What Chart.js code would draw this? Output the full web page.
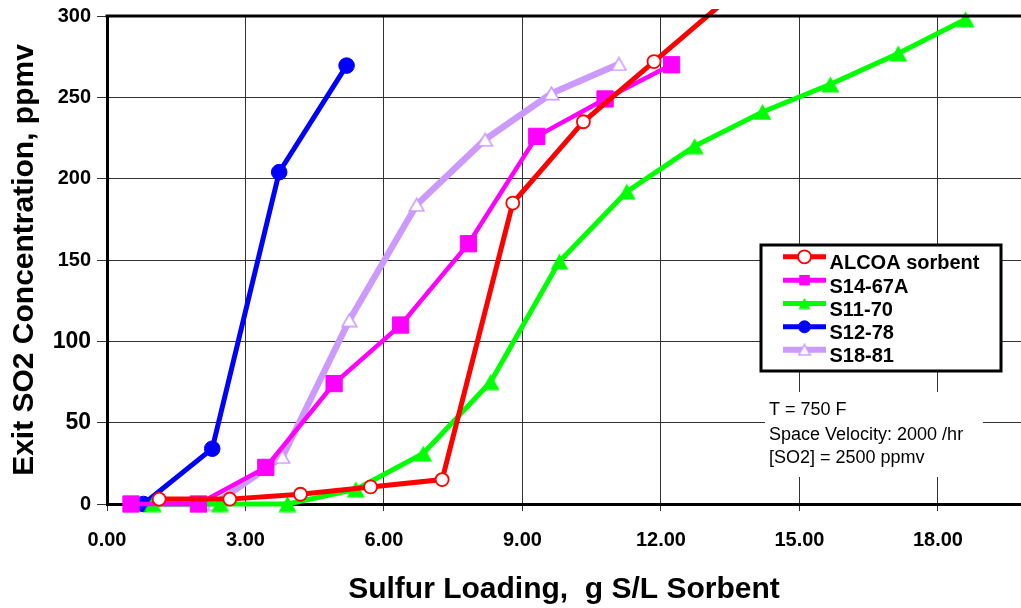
<!DOCTYPE html>
<html>
<head>
<meta charset="utf-8">
<script src="https://cdn.jsdelivr.net/npm/chart.js@4/dist/chart.umd.min.js"></script>
<style>
html,body{margin:0;padding:0;background:#fff;overflow:hidden;}
#wrap{width:1021px;height:608px;position:relative;}
</style>
</head>
<body>
<div id="wrap"><canvas id="c" width="1021" height="608"></canvas></div>
<script>
// ---- data ----
const seriesNames = ["ALCOA sorbent", "S14-67A", "S11-70", "S12-78", "S18-81"];

const alcoaX = [1.13, 2.66, 4.19, 5.71, 7.26, 8.79, 10.32, 11.85, 13.38];
const alcoaY = [3, 3, 6, 10.5, 15, 185, 235, 272, 309];

const s1467X = [0.52, 1.98, 3.44, 4.92, 6.36, 7.83, 9.31, 10.79, 12.23];
const s1467Y = [0, 0, 22.5, 74, 110, 160, 226, 249, 270];

const s1170X = [0.99, 2.45, 3.91, 5.39, 6.85, 8.31, 9.80, 11.26, 12.73, 14.20, 15.67, 17.14, 18.60];
const s1170Y = [0, 0, 0, 9, 31, 75, 149, 192, 220, 241, 258, 277, 298];

const s1278X = [0.79, 2.28, 3.73, 5.19];
const s1278Y = [0, 34, 204, 269.5];

const s1881X = [0.88, 2.34, 3.80, 5.25, 6.71, 8.19, 9.63, 11.09];
const s1881Y = [0, 0, 29, 113, 184, 224, 252.5, 270.5];

const xTicks = [0, 3, 6, 9, 12, 15, 18];
const yTicks = [0, 50, 100, 150, 200, 250, 300];

const noteLines = ["T = 750 F", "Space Velocity: 2000 /hr", "[SO2] = 2500 ppmv"];
const xTitle = "Sulfur Loading,  g S/L Sorbent";
const yTitle = "Exit SO2 Concentration, ppmv";

// ---- helpers ----
const FONT = "'Liberation Sans', Arial, Helvetica, sans-serif";
function pts(xs, ys){ return xs.map((x,i)=>({x:x, y:ys[i]})); }

function triCanvas(w, h, fill, stroke, lw){
  const c = document.createElement('canvas');
  c.width = w; c.height = h;
  const g = c.getContext('2d');
  const p = lw/2 + 0.5;
  g.beginPath();
  g.moveTo(w/2, p);
  g.lineTo(w - p, h - p);
  g.lineTo(p, h - p);
  g.closePath();
  g.fillStyle = fill; g.fill();
  if (lw > 0){ g.lineWidth = lw; g.strokeStyle = stroke; g.stroke(); }
  return c;
}
const greenTri = triCanvas(19, 17, '#00FF00', '#00FF00', 0);
const lavTri = triCanvas(17, 15, '#FFFFFF', '#CC99FF', 1.6);
const greenTriSmall = triCanvas(13, 12, '#00FF00', '#00FF00', 0);
const lavTriSmall = triCanvas(14, 13, '#FFFFFF', '#CC99FF', 1.4);

const datasets = [
  {label: seriesNames[0], data: pts(alcoaX, alcoaY), borderColor:'#FF0000', borderWidth:5,
   pointStyle:'circle', pointRadius:6.5, pointBackgroundColor:'#FFFFFF', pointBorderColor:'#FF0000', pointBorderWidth:1.8,
   clip:{left:12, top:7, right:12, bottom:12}},
  {label: seriesNames[1], data: pts(s1467X, s1467Y), borderColor:'#FF00FF', borderWidth:4.5,
   pointStyle:'rect', pointRadius:11.5, pointBackgroundColor:'#FF00FF', pointBorderColor:'#FF00FF', pointBorderWidth:1, clip:false},
  {label: seriesNames[2], data: pts(s1170X, s1170Y), borderColor:'#00FF00', borderWidth:5,
   pointStyle:greenTri, pointRadius:9, clip:false},
  {label: seriesNames[3], data: pts(s1278X, s1278Y), borderColor:'#0000FF', borderWidth:5,
   pointStyle:'circle', pointRadius:7.8, pointBackgroundColor:'#0000FF', pointBorderColor:'#0000FF', pointBorderWidth:1, clip:false},
  {label: seriesNames[4], data: pts(s1881X, s1881Y), borderColor:'#CC99FF', borderWidth:6.5,
   pointStyle:lavTri, pointRadius:8, clip:false}
];

const legendMarkers = [
  {type:'circle', r:6.5, fill:'#FFFFFF', stroke:'#FF0000', lw:1.8, color:'#FF0000', lineW:5},
  {type:'rect', s:10.5, fill:'#FF00FF', color:'#FF00FF', lineW:5},
  {type:'img', img:greenTriSmall, color:'#00FF00', lineW:5},
  {type:'circle', r:6, fill:'#0000FF', stroke:'#0000FF', lw:1, color:'#0000FF', lineW:5},
  {type:'img', img:lavTriSmall, color:'#CC99FF', lineW:6}
];

const overlayPlugin = {
  id:'overlay',
  afterDatasetsDraw(chart){
    const ctx = chart.ctx;
    const a = chart.chartArea;
    ctx.save();
    // top frame line
    ctx.beginPath();
    ctx.lineWidth = 3; ctx.strokeStyle = '#000';
    ctx.moveTo(a.left - 1.5, a.top); ctx.lineTo(a.right + 2, a.top);
    ctx.stroke();

    // legend box
    const lx = 761, ly = 245, lw = 240, lh = 126;
    ctx.fillStyle = '#fff';
    ctx.fillRect(lx, ly, lw, lh);
    ctx.lineWidth = 3; ctx.strokeStyle = '#000';
    ctx.strokeRect(lx, ly, lw, lh);
    const rowText = [263.3, 286.7, 310, 333.3, 356.3];
    ctx.font = "bold 20px " + FONT;
    ctx.textBaseline = 'middle';
    ctx.textAlign = 'left';
    seriesNames.forEach((name, i) => {
      const m = legendMarkers[i];
      const yl = rowText[i] - 6.5;
      ctx.beginPath();
      ctx.lineWidth = m.lineW; ctx.strokeStyle = m.color;
      ctx.moveTo(783, yl); ctx.lineTo(826, yl); ctx.stroke();
      const cx = 804.5;
      if (m.type === 'circle'){
        ctx.beginPath(); ctx.arc(cx, yl, m.r, 0, Math.PI*2);
        ctx.fillStyle = m.fill; ctx.fill();
        ctx.lineWidth = m.lw; ctx.strokeStyle = m.stroke; ctx.stroke();
      } else if (m.type === 'rect'){
        ctx.fillStyle = m.fill; ctx.fillRect(cx - m.s/2, yl - m.s/2, m.s, m.s);
      } else {
        ctx.drawImage(m.img, cx - m.img.width/2, yl - m.img.height/2);
      }
      ctx.fillStyle = '#000';
      ctx.fillText(name, 829.5, rowText[i] + 0.5);
    });

    // note box
    ctx.fillStyle = '#fff';
    ctx.fillRect(765, 392, 218, 85);
    ctx.font = "18px " + FONT;
    ctx.fillStyle = '#000';
    const noteY = [410, 434.5, 458];
    noteLines.forEach((t, i) => ctx.fillText(t, 769, noteY[i] + 0.5));
    ctx.restore();
  }
};

new Chart(document.getElementById('c'), {
  type:'line',
  data:{datasets: datasets},
  options:{
    responsive:false,
    animation:false,
    events:[],
    layout:{autoPadding:false, padding:{top:16, right:0, left:0, bottom:0}},
    plugins:{legend:{display:false}, tooltip:{enabled:false}},
    elements:{line:{tension:0}},
    scales:{
      x:{
        type:'linear', min:0, max:19.8,
        afterFit(s){ s.height = 104; s.paddingLeft = 0; s.paddingRight = 0; },
        afterBuildTicks(s){ s.ticks = xTicks.map(v => ({value:v})); },
        border:{display:true, color:'#000', width:3},
        grid:{color:'#333', lineWidth:1, drawTicks:true, tickLength:7, tickColor:'#333', tickWidth:1},
        ticks:{color:'#000', padding:17, font:{family:FONT, size:20, weight:'bold'},
          callback:(v)=>Number(v).toFixed(2), maxRotation:0, autoSkip:false},
        title:{display:true, text:xTitle, color:'#000', font:{family:FONT, size:30, weight:'bold'}, padding:{top:0, bottom:0.5}}
      },
      y:{
        type:'linear', min:0, max:300,
        afterFit(s){ s.width = 107; s.paddingTop = 0; s.paddingBottom = 0; },
        afterBuildTicks(s){ s.ticks = yTicks.map(v => ({value:v})); },
        border:{display:true, color:'#000', width:3},
        grid:{color:'#333', lineWidth:1, drawTicks:true, tickLength:10, tickColor:'#333', tickWidth:1},
        ticks:{color:'#000', padding:6, autoSkip:false,
          font:(ctx)=>({family:FONT, weight:'bold', size:(ctx.tick && (ctx.tick.value === 100 || ctx.tick.value === 50)) ? 23 : 20})},
        title:{display:true, text:yTitle, color:'#000', font:{family:FONT, size:30, weight:'bold'}, padding:{top:7, bottom:0}}
      }
    }
  },
  plugins:[overlayPlugin]
});
</script>
</body>
</html>
